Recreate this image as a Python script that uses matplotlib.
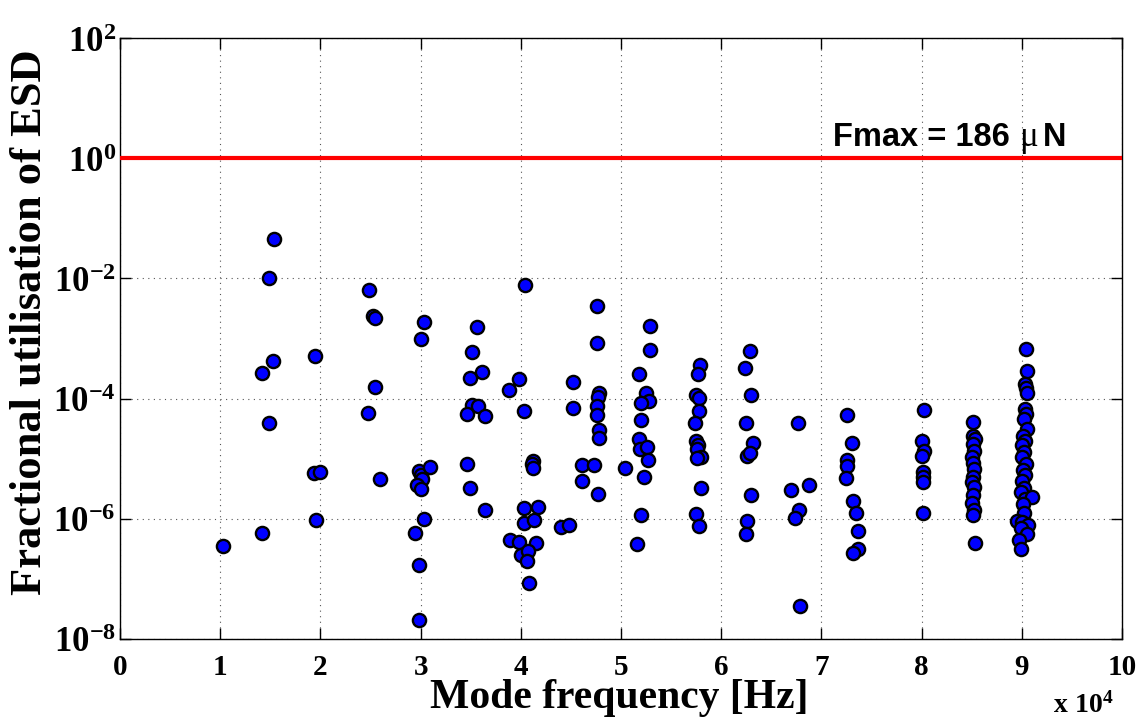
import matplotlib
matplotlib.use("Agg")
import matplotlib.pyplot as plt
from matplotlib.ticker import FixedLocator, NullLocator

# ---------------- data ----------------
mode_freq_hz = [
    # 1e4 - 2.6e4
    15400, 14900, 24900, 25200, 25400, 19500, 15300, 14200, 25400, 24800,
    14900, 19400, 20000, 25900, 19600, 14200, 10300,
    # 3e4 - 5e4
    30300, 30000, 35600, 35100, 36100, 34900, 40400, 47600, 47600, 39800,
    38800, 45200, 47800, 47700, 47600, 47600, 47800, 47800, 45200, 35100,
    35700, 34600, 36400, 40300, 29800, 30000, 30100, 29600, 30000, 30900,
    34600, 34900, 36400, 30300, 29400, 29800, 29800, 41200, 41100, 41200,
    46100, 47300, 46100, 47700, 50400, 40300, 41700, 40300, 41300, 38900,
    39800, 41500, 40000, 40700, 40600, 40800, 44000, 44800,
    # 5e4 - 7e4
    52900, 52900, 51800, 52500, 52800, 52000, 52000, 51800, 51900, 52600,
    52700, 52300, 52000, 51600, 57900, 57700, 57500, 57800, 57800, 57400,
    57500, 57700, 57600, 58000, 57600, 58000, 57500, 57800, 62900, 62400,
    63000, 62500, 63200, 62600, 62900, 63000, 62600, 62500, 67700, 67000,
    68800, 67800, 67400, 67900,
    # 7e4 - 8e4
    72600, 73100, 72600, 72600, 72500, 73200, 73500, 73700, 73700, 73200,
    80200, 80000, 80200, 80000, 80100, 80100, 80100, 80100,
    # 8.5e4
    85100, 85100, 85300, 85100, 85200, 85000, 85100, 85200, 85100, 85000,
    85200, 85100, 85000, 85200, 85100, 85300,
    # 9e4
    90400, 90500, 90300, 90400, 90500, 90300, 90400, 90200, 90500, 90100,
    90300, 90000, 90200, 90000, 90400, 90100, 90300, 90000, 90200, 89900,
    90300, 91000, 90100, 90200, 89500, 90000, 90600, 89900, 90500, 89700,
    89900,
]

esd_utilisation = [
    4.6e-2, 1.0e-2, 6.3e-3, 2.4e-3, 2.2e-3, 5.2e-4, 4.3e-4, 2.7e-4, 1.55e-4, 5.8e-5,
    3.9e-5, 5.8e-6, 6.0e-6, 4.6e-6, 9.5e-7, 5.9e-7, 3.5e-7,
    1.9e-3, 9.8e-4, 1.55e-3, 6.0e-4, 2.8e-4, 2.2e-4, 7.9e-3, 3.5e-3, 8.5e-4, 2.1e-4,
    1.4e-4, 1.9e-4, 1.26e-4, 1.07e-4, 7.6e-5, 5.4e-5, 3.0e-5, 2.2e-5, 6.9e-5, 7.9e-5,
    7.6e-5, 5.6e-5, 5.1e-5, 6.3e-5, 6.3e-6, 5.4e-6, 4.6e-6, 3.7e-6, 3.1e-6, 7.4e-6,
    8.3e-6, 3.2e-6, 1.4e-6, 9.8e-7, 5.9e-7, 1.7e-7, 2.1e-8, 9.3e-6, 8.1e-6, 7.1e-6,
    7.9e-6, 7.9e-6, 4.2e-6, 2.6e-6, 7.1e-6, 1.5e-6, 1.55e-6, 8.5e-7, 9.5e-7, 4.4e-7,
    4.1e-7, 3.9e-7, 2.5e-7, 2.9e-7, 2.0e-7, 8.7e-8, 7.2e-7, 7.9e-7,
    1.6e-3, 6.5e-4, 2.6e-4, 1.26e-4, 9.1e-5, 8.3e-5, 4.4e-5, 2.1e-5, 1.45e-5, 1.55e-5,
    9.5e-6, 5.0e-6, 1.15e-6, 3.8e-7, 3.6e-4, 2.6e-4, 1.17e-4, 1.02e-4, 6.3e-5, 4.0e-5,
    2.0e-5, 1.66e-5, 1.45e-5, 1.07e-5, 1.02e-5, 3.2e-6, 1.2e-6, 7.6e-7, 6.2e-4, 3.2e-4,
    1.15e-4, 3.9e-5, 1.8e-5, 1.1e-5, 1.23e-5, 2.5e-6, 9.1e-7, 5.5e-7, 4.0e-5, 3.0e-6,
    3.7e-6, 1.4e-6, 1.02e-6, 3.6e-8,
    5.4e-5, 1.8e-5, 9.5e-6, 7.6e-6, 4.7e-6, 1.95e-6, 1.26e-6, 6.2e-7, 3.2e-7, 2.7e-7,
    6.5e-5, 2.0e-5, 1.35e-5, 1.12e-5, 5.9e-6, 4.9e-6, 4.1e-6, 1.26e-6,
    4.1e-5, 2.4e-5, 2.1e-5, 1.74e-5, 1.35e-5, 1.07e-5, 8.5e-6, 6.8e-6, 5.0e-6, 4.1e-6,
    3.4e-6, 2.5e-6, 1.86e-6, 1.38e-6, 1.17e-6, 4.0e-7,
    6.6e-4, 2.9e-4, 1.74e-4, 1.48e-4, 1.26e-4, 6.8e-5, 5.5e-5, 4.6e-5, 3.1e-5, 2.4e-5,
    2.0e-5, 1.66e-5, 1.29e-5, 1.05e-5, 8.1e-6, 6.5e-6, 5.4e-6, 4.3e-6, 3.3e-6, 2.75e-6,
    2.1e-6, 2.3e-6, 1.78e-6, 1.23e-6, 9.3e-7, 8.7e-7, 7.8e-7, 7.1e-7, 5.5e-7, 4.5e-7,
    3.1e-7,
]

fmax_level = 1.0
fmax_label_parts = ["Fmax = 186", "\u03bc", "N"]
x_tick_labels = ["0", "1", "2", "3", "4", "5", "6", "7", "8", "9", "10"]
y_tick_exponents = [-8, -6, -4, -2, 0, 2]

# ---------------- style ----------------
plt.rcParams['mathtext.fontset'] = 'custom'
plt.rcParams['mathtext.rm'] = 'Liberation Serif:bold'
plt.rcParams['mathtext.bf'] = 'Liberation Serif:bold'
plt.rcParams['mathtext.it'] = 'Liberation Serif:bold'

serif_bold = dict(family='Liberation Serif', weight='bold')

W, H = 1142, 720
fig = plt.figure(figsize=(W / 100, H / 100), dpi=100)
ax = fig.add_axes([120 / W, 81 / H, 1002 / W, 601 / H])

ax.plot(mode_freq_hz, esd_utilisation, linestyle='none', marker='o',
        markersize=9.5, markerfacecolor=(0, 0, 1), markeredgecolor='black',
        markeredgewidth=1.7, zorder=3)

ax.axhline(fmax_level, color=(1, 0, 0), linewidth=3, zorder=4)

# "Fmax = 186 μ N" annotation (pixel positions matching the reference)
fy = 1 - 146 / H
fig.text(833 / W, fy, fmax_label_parts[0], family='Liberation Sans', weight='bold',
         fontsize=23.5, ha='left', va='baseline', zorder=5)
fig.text(1019 / W, fy, fmax_label_parts[1], family='Liberation Serif',
         fontsize=25, ha='left', va='baseline', zorder=5)
fig.text(1043 / W, fy, fmax_label_parts[2], family='Liberation Sans', weight='bold',
         fontsize=23.5, ha='left', va='baseline', zorder=5)

ax.set_yscale('log')
ax.set_xlim(0, 1e5)
ax.set_ylim(1e-8, 1e2)

xt = [i * 1e4 for i in range(len(x_tick_labels))]
ax.xaxis.set_major_locator(FixedLocator(xt))
ax.set_xticklabels(x_tick_labels, **serif_bold, fontsize=21)
ax.xaxis.set_minor_locator(NullLocator())

yt = [10.0 ** e for e in y_tick_exponents]
ax.yaxis.set_major_locator(FixedLocator(yt))
ax.set_yticklabels([r'$\mathbf{10^{%d}}$' % e for e in y_tick_exponents], fontsize=25)
ax.yaxis.set_minor_locator(NullLocator())

ax.tick_params(direction='in', length=8, width=1, top=True, right=True)
ax.tick_params(axis='x', pad=11)
ax.tick_params(axis='y', pad=3)

ax.grid(True, which='major', linestyle=(0, (1, 4)), color='#555555', linewidth=0.8)
ax.set_axisbelow(True)
for s in ax.spines.values():
    s.set_linewidth(1.0)

# axis labels placed to match the reference layout
fig.text(619 / W, 12 / H, 'Mode frequency [Hz]', **serif_bold, fontsize=30,
         ha='center', va='baseline')
fig.text(30 / W, 1 - 322 / H, 'Fractional utilisation of ESD', **serif_bold,
         fontsize=32, rotation=90, ha='center', va='center')

fig.text(1053 / W, 1 / H, r'$\mathbf{x\ 10^{4}}$', fontsize=20, ha='left', va='bottom')

fig.savefig('out.png', dpi=100)
